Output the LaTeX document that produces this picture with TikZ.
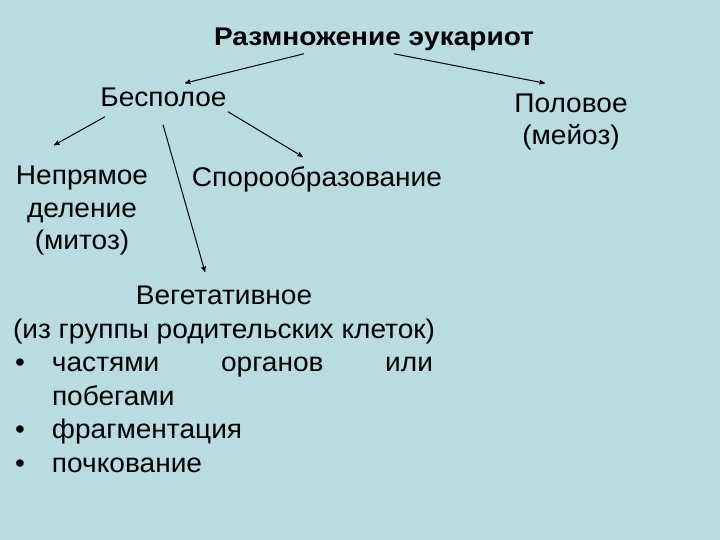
\documentclass[tikz,border=0pt]{standalone}
\usepackage{fontspec}
\setmainfont{Liberation Sans}[FakeStretch=1.04]
\newfontfamily\ttlfont{Liberation Sans}[FakeStretch=1.1]
\usepackage{tikz}
\usetikzlibrary{arrows,positioning}
\usepackage{xcolor}
\definecolor{slidebg}{RGB}{184,220,224}
\newcommand{\bul}[1]{\par\noindent\hangindent=37bp\hangafter=1\makebox[37bp][l]{•}#1\par}

\begin{document}
\begin{tikzpicture}[>=stealth',node distance=2cm,on grid,
		txt/.style={inner sep=0pt,font=\fontsize{27bp}{32.5bp}\selectfont,align=center}]
			\fill[slidebg] (0,0) rectangle (720bp,-540bp);
			\useasboundingbox (0,0) rectangle (720bp,-540bp);
			  \node[txt,font=\ttlfont\fontsize{25.5bp}{30bp}\selectfont\bfseries] (ttl) at (374bp,-39.25bp) {Размножение эукариот};
			  \node[txt]          (bes) [below left =58.15bp and 210.5bp of ttl]    {Бесполое};
			  \node[txt,font=\fontsize{27bp}{32bp}\selectfont]          (pol) [below right =82.95bp and 197bp of ttl]    {Половое\\(мейоз)};
			  \node[txt]          (mit) [below left =113.3bp and 81.5bp of bes]    {Непрямое\\деление\\(митоз)};
			  \node[txt]          (spor) [below right =82.4bp and 153.5bp of bes]    {Спорообразование};
			  \node[txt,align=none,text width=418bp,font=\fontsize{27bp}{33.6bp}\selectfont]
			                      (veg) [below right =75bp and 142bp of mit,anchor=north]
			                      {\tolerance=10000\hyphenpenalty=10000\parindent=0pt
			                       {\centering Вегетативное\par\makebox[\linewidth][c]{(из группы родительских клеток)}\par}
			                       \bul{частями органов или побегами}
			                       \bul{фрагментация}
			                       \bul{почкование}};

			\tikzset{arr/.style={->,line width=1bp,black}}
			\path ([shift={(-70bp,-2.9bp)}]ttl.south)     edge [arr]    ([shift={(21.5bp,4.7bp)}]bes.north)
				  ([shift={(20bp,-2.9bp)}]ttl.south)      edge [arr]    ([shift={(-26bp,10.7bp)}]pol.north)
				  ([shift={(-58.5bp,-9.7bp)}]bes.south)   edge [arr]    ([shift={(-28bp,20.7bp)}]mit.north)
				  ([shift={(64.5bp,-4.7bp)}]bes.south)    edge [arr]    ([shift={(-14bp,10bp)}]spor.north)
				  ([shift={(-0.5bp,-17.7bp)}]bes.south)   edge [arr]    ([shift={(-19bp,13.7bp)}]veg.north);
		\end{tikzpicture}
\end{document}
